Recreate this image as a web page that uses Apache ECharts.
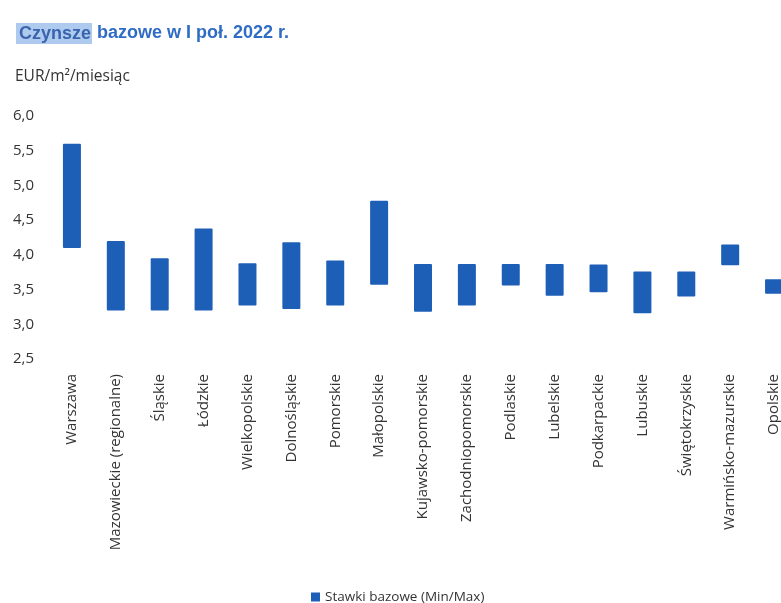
<!DOCTYPE html>
<html>
<head>
<meta charset="utf-8">
<script src="https://cdn.jsdelivr.net/npm/echarts@6/dist/echarts.min.js"></script>
<style>html,body{margin:0;padding:0;background:#fff;}#c{width:781px;height:603px;}</style>
</head>
<body>
<div id="c"></div>
<script>
const categories = ["Warszawa","Mazowieckie (regionalne)","Śląskie","Łódzkie","Wielkopolskie","Dolnośląskie","Pomorskie","Małopolskie","Kujawsko-pomorskie","Zachodniopomorskie","Podlaskie","Lubelskie","Podkarpackie","Lubuskie","Świętokrzyskie","Warmińsko-mazurskie","Opolskie"];
const minValues = [4.1,3.2,3.2,3.2,3.27,3.22,3.27,3.57,3.18,3.27,3.56,3.41,3.46,3.16,3.4,3.85,3.44];
const maxValues = [5.6,4.2,3.95,4.38,3.88,4.18,3.92,4.78,3.87,3.87,3.87,3.87,3.86,3.76,3.76,4.15,3.65];
const yTicks = {min:2.5, max:6.0, interval:0.5};
const seriesName = "Stawki bazowe (Min/Max)";

const ranges = maxValues.map((v,i)=> +(v - minValues[i]).toFixed(3));
const font = "'Open Sans', 'Noto Sans', sans-serif";
const chart = echarts.init(document.getElementById('c'), null, {renderer:'canvas'});
chart.setOption({
  animation:false,
  backgroundColor:'#ffffff',
  title:[{
    left:11, top:18,
    text:'{h|Czynsze} {b|bazowe w I poł. 2022 r.}',
    textStyle:{rich:{
      h:{fontFamily:'Liberation Sans, Arial, sans-serif',fontWeight:'bold',fontSize:18,color:'#3a64ae',backgroundColor:'#aecbef',padding:[2,1,1,3]},
      b:{fontFamily:'Liberation Sans, Arial, sans-serif',fontWeight:'bold',fontSize:18,color:'#2f6cc4'}
    }}
  },{
    left:10, top:64,
    text:'EUR/m²/miesiąc',
    textStyle:{fontFamily:font,fontWeight:'normal',fontSize:15.5,color:'#333'}
  }],
  legend:{
    data:[seriesName], left:306, top:585, icon:'rect', itemWidth:9, itemHeight:9, itemGap:6,
    textStyle:{fontFamily:font,fontSize:13.5,color:'#333'}
  },
  grid:{left:50, top:116, width:746, height:243, outerBoundsMode:'none', containLabel:false},
  xAxis:{
    type:'category', data:categories,
    axisLine:{show:false}, axisTick:{show:false},
    axisLabel:{rotate:90, interval:0, margin:15, fontFamily:font, fontSize:15, color:'#333'}
  },
  yAxis:{
    type:'value', min:yTicks.min, max:yTicks.max, interval:yTicks.interval,
    splitLine:{show:false}, axisLine:{show:false}, axisTick:{show:false},
    axisLabel:{align:'left', margin:37, fontFamily:font, fontSize:15, color:'#333',
      formatter:v=>v.toFixed(1).replace('.',',')}
  },
  series:[{
    name:'base', type:'bar', stack:'r', data:minValues, barWidth:18,
    itemStyle:{color:'rgba(0,0,0,0)'}, silent:true
  },{
    name:seriesName, type:'bar', stack:'r', data:ranges, barWidth:18,
    itemStyle:{color:'#1d5fb6', borderRadius:1}
  }]
});
</script>
</body>
</html>
